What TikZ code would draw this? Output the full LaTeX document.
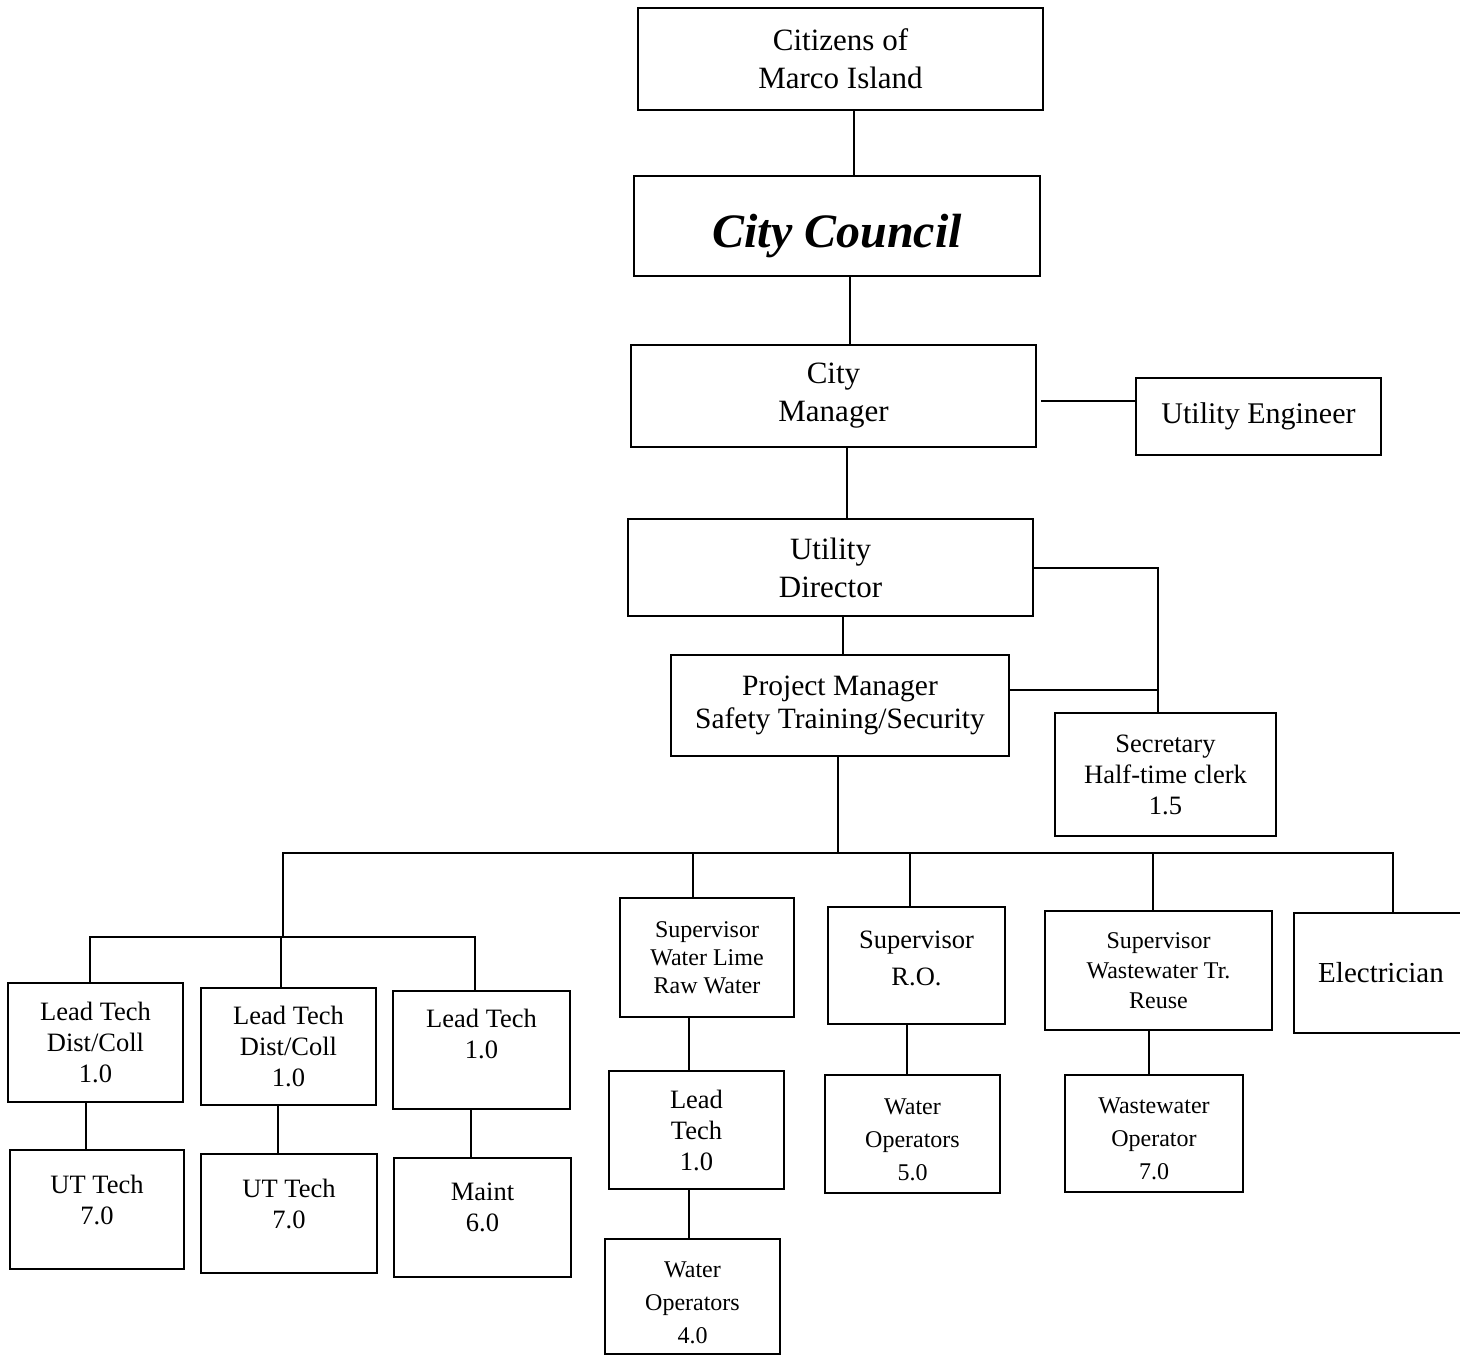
\documentclass[tikz,border=0pt]{standalone}
\usepackage{fontspec}
\setmainfont{Liberation Serif}
\begin{document}
\begin{tikzpicture}[x=1pt,y=-1pt,
  box/.style={draw, line width=2pt, inner sep=0pt, align=center},
  sz/.style 2 args={minimum width=#1pt, minimum height=#2pt},
  wire/.style={line width=2pt},
  fa/.style={font=\fontsize{31}{38}\selectfont},
  fb/.style={font=\fontsize{29.5}{33}\selectfont},
  fc/.style={font=\fontsize{26.5}{31}\selectfont},
  fd/.style={font=\fontsize{24}{28}\selectfont},
  fe/.style={font=\fontsize{24}{33}\selectfont},
  inner/.style={align=center, inner sep=0pt}
]
\useasboundingbox (0,0) rectangle (1460,1356);

% upper chain
\node[box, sz={405}{102}, fa] (cit) at (840.5,59) {Citizens of\\Marco Island};
\node[box, sz={406}{100}, label={[inner, yshift=-10pt, font=\fontsize{48}{56}\selectfont\bfseries\itshape]center:City Council}] (council) at (837,226) {};
\node[box, sz={405}{102}, fa] (mgr) at (833.5,396) {City\\Manager};
\node[box, sz={245}{77}, font=\fontsize{30}{36}\selectfont] (eng) at (1258.5,416.5) {Utility Engineer};
\node[box, sz={405}{97}, fa] (dir) at (830.5,567.5) {Utility\\Director};
\node[box, sz={338}{101}, fb] (pm) at (840,705.5) {Project Manager\\Safety Training/Security};
\node[box, sz={221}{123}, fc] (sec) at (1165.5,774.5) {Secretary\\Half-time clerk\\1.5};

% distribution / collection group
\node[box, sz={175}{119}, fc] (lt1) at (95.5,1042.5) {Lead Tech\\Dist/Coll\\1.0};
\node[box, sz={175}{117}, fc] (lt2) at (288.5,1046.5) {Lead Tech\\Dist/Coll\\1.0};
\node[box, sz={177}{118}, label={[inner, fc, yshift=16pt]center:{Lead Tech\\1.0}}] (lt3) at (481.5,1050) {};
\node[box, sz={174}{119}, label={[inner, fc, yshift=10pt]center:{UT Tech\\7.0}}] (ut1) at (97,1209.5) {};
\node[box, sz={176}{119}, label={[inner, fc, yshift=10pt]center:{UT Tech\\7.0}}] (ut2) at (289,1213.5) {};
\node[box, sz={177}{119}, label={[inner, fc, yshift=10pt]center:{Maint\\6.0}}] (maint) at (482.5,1217.5) {};

% treatment groups
\node[box, sz={174}{119}, fd] (svw) at (707,957.5) {Supervisor\\Water Lime\\Raw Water};
\node[box, sz={175}{118}, fc] (ltc) at (696.5,1130) {Lead\\Tech\\1.0};
\node[box, sz={175}{115}, label={[inner, fe, yshift=-6pt]center:{Water\\Operators\\4.0}}] (wo4) at (692.5,1296.5) {};
\node[box, sz={177}{117}, label={[inner, fc, font=\fontsize{26.5}{37}\selectfont, yshift=7pt]center:{Supervisor\\R.O.}}] (sro) at (916.5,965.5) {};
\node[box, sz={175}{118}, label={[inner, fe, yshift=-6pt]center:{Water\\Operators\\5.0}}] (wo5) at (912.5,1134) {};
\node[box, sz={227}{119}, font=\fontsize{24}{30}\selectfont] (sww) at (1158.5,970.5) {Supervisor\\Wastewater Tr.\\Reuse};
\node[box, sz={178}{117}, label={[inner, fe, yshift=-5pt]center:{Wastewater\\Operator\\7.0}}] (wwo) at (1154,1133.5) {};
\node[box, sz={174}{120}, font=\fontsize{29}{34}\selectfont] (elec) at (1381,973) {Electrician};

% bus and group bar
\coordinate (busL) at (283,853);
\coordinate (busR) at (1393,853);
\coordinate (gbar) at (283,937);
\coordinate (sj) at ([xshift=-8pt]sec.north);
\coordinate (pmr) at ([yshift=16pt]pm.east);

% chain of command
\draw[wire] ([xshift=13pt]cit.south) -- ([xshift=13pt]cit.south |- council.north);
\draw[wire] ([xshift=13pt]council.south) -- ([xshift=13pt]council.south |- mgr.north);
\draw[wire] ([xshift=13pt]mgr.south) -- ([xshift=13pt]mgr.south |- dir.north);
\draw[wire] ([xshift=12pt]dir.south) -- ([xshift=12pt]dir.south |- pm.north);
\draw[wire] ([yshift=-5pt,xshift=4pt]mgr.east) -- ([yshift=-5pt]mgr.east -| eng.west);
\draw[wire] (dir.east) -| (sj);
\draw[wire] (pmr) -- (pmr -| sj);

% main bus
\draw[wire] ([xshift=-2pt]pm.south) -- ([xshift=-2pt]pm.south |- busL);
\draw[wire] (gbar) -- (busL) -- (busR) -- (busR |- elec.north);
\draw[wire] ([xshift=-14pt]svw.north) -- ([xshift=-14pt]svw.north |- busL);
\draw[wire] ([xshift=-7pt]sro.north) -- ([xshift=-7pt]sro.north |- busL);
\draw[wire] ([xshift=-6pt]sww.north) -- ([xshift=-6pt]sww.north |- busL);

% left group
\draw[wire] ([xshift=-6pt]lt1.north) |- (gbar) -| ([xshift=-7pt]lt3.north);
\draw[wire] ([xshift=-8pt]lt2.north) -- ([xshift=-8pt]lt2.north |- gbar);
\draw[wire] ([xshift=-10pt]lt1.south) -- ([xshift=-10pt]lt1.south |- ut1.north);
\draw[wire] ([xshift=-11pt]lt2.south) -- ([xshift=-11pt]lt2.south |- ut2.north);
\draw[wire] ([xshift=-11pt]lt3.south) -- ([xshift=-11pt]lt3.south |- maint.north);

% treatment drops
\draw[wire] ([xshift=-18pt]svw.south) -- ([xshift=-18pt]svw.south |- ltc.north);
\draw[wire] ([xshift=-8pt]ltc.south) -- ([xshift=-8pt]ltc.south |- wo4.north);
\draw[wire] ([xshift=-10pt]sro.south) -- ([xshift=-10pt]sro.south |- wo5.north);
\draw[wire] ([xshift=-10pt]sww.south) -- ([xshift=-10pt]sww.south |- wwo.north);
\end{tikzpicture}
\end{document}
